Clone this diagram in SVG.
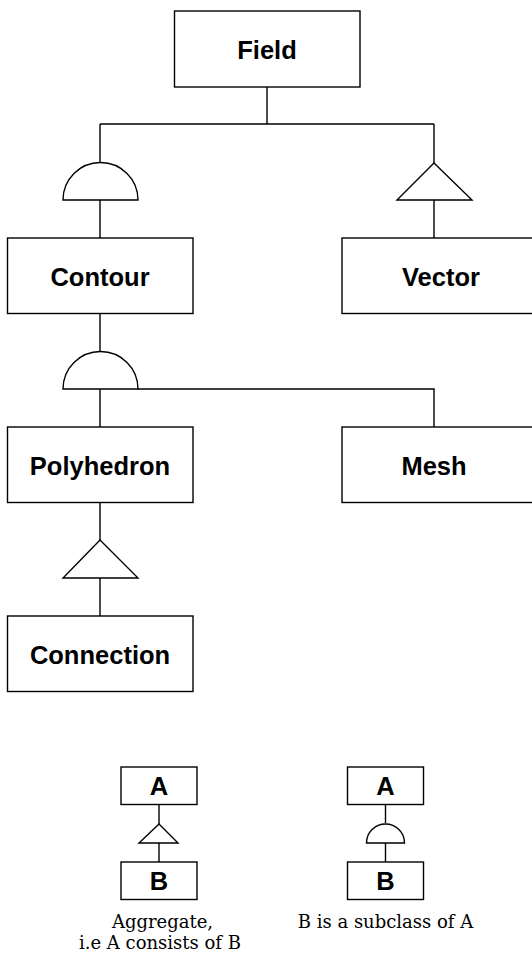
<svg xmlns="http://www.w3.org/2000/svg" width="532" height="956" viewBox="0 0 532 956">
<style>
.box{fill:#fff;stroke:#000;stroke-width:1.4}
.lbl{font-family:"Liberation Sans",Arial,sans-serif;font-weight:bold;font-size:25.5px;text-anchor:middle;fill:#000}
.ln{fill:none;stroke:#000;stroke-width:1.4}
.sym{fill:#fff;stroke:#000;stroke-width:1.4}
.cap{font-family:"DejaVu Serif","Liberation Serif",serif;font-size:18px;text-anchor:middle;fill:#000}
</style>
<rect width="532" height="956" fill="#fff"/>
<g id="connectors">
  <path class="ln" d="M267,87 V124 M100,124 H434 M100,124 V162 M434,124 V163"/>
  <path class="ln" d="M100,200 V238 M434,200 V238"/>
  <path class="sym" d="M63,200 A37.5,37.5 0 0 1 138,200 Z"/>
  <path class="sym" d="M434,163 L472,200 L397,200 Z"/>
  <path class="ln" d="M100,313 V351 M100,389 V427 M138,389 H434 V427"/>
  <path class="sym" d="M63,389 A37.5,37.5 0 0 1 138,389 Z"/>
  <path class="ln" d="M100,502 V540 M100,578 V616"/>
  <path class="sym" d="M100,540 L138,578 L63,578 Z"/>
  <path class="ln" d="M159,804 V824 M159,843 V862"/>
  <path class="sym" d="M159,824 L178,843 L139,843 Z"/>
  <path class="ln" d="M385.5,804 V823 M385.5,843 V862"/>
  <path class="sym" d="M366.5,843 A19,19 0 0 1 404.5,843 Z"/>
</g>
<g id="field"><rect class="box" x="174.5" y="11" width="185.5" height="76"/><text class="lbl" x="267" y="58.5">Field</text></g>
<g id="contour"><rect class="box" x="7.5" y="238" width="185.5" height="75.5"/><text class="lbl" x="100" y="286">Contour</text></g>
<g id="vector"><rect class="box" x="342" y="238" width="200" height="75.5"/><text class="lbl" x="441" y="286">Vector</text></g>
<g id="polyhedron"><rect class="box" x="7.5" y="427" width="185.5" height="75.5"/><text class="lbl" x="100" y="475">Polyhedron</text></g>
<g id="mesh"><rect class="box" x="342" y="427" width="200" height="75.5"/><text class="lbl" x="434" y="475">Mesh</text></g>
<g id="connection"><rect class="box" x="7.5" y="616" width="185.5" height="75.5"/><text class="lbl" x="100" y="664">Connection</text></g>
<g id="legend-agg-a"><rect class="box" x="121" y="767" width="76" height="37.5"/><text class="lbl" x="159" y="795">A</text></g>
<g id="legend-agg-b"><rect class="box" x="121" y="862" width="76" height="37.5"/><text class="lbl" x="159" y="890">B</text></g>
<g id="legend-sub-a"><rect class="box" x="347.5" y="767" width="76" height="37.5"/><text class="lbl" x="385.5" y="795">A</text></g>
<g id="legend-sub-b"><rect class="box" x="347.5" y="862" width="76" height="37.5"/><text class="lbl" x="385.5" y="890">B</text></g>
<g id="captions">
  <text class="cap"><tspan x="162.5" y="927.5">Aggregate,</tspan><tspan x="160" y="948.8">i.e A consists of B</tspan></text>
  <text class="cap" x="385.5" y="927.5">B is a subclass of A</text>
</g>
</svg>
